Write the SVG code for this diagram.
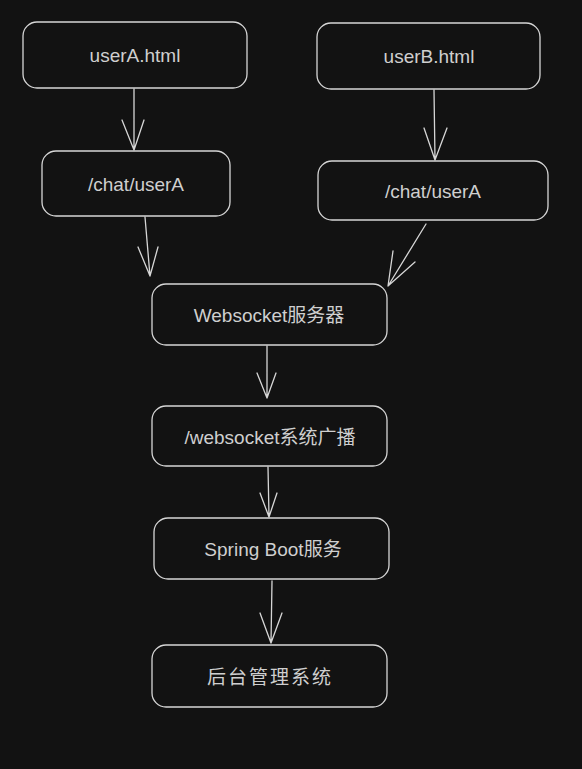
<svg xmlns="http://www.w3.org/2000/svg" width="582" height="769" viewBox="0 0 582 769">
<style>
.box{fill:#121212;stroke:#d6d6d6;stroke-width:1.3}
.lbl{fill:#cfcfcf;font-family:"Liberation Sans","Noto Sans CJK SC",sans-serif;font-size:19px;text-anchor:middle;dominant-baseline:central}
.ln{fill:none;stroke:#d6d6d6;stroke-width:1.3;stroke-linecap:round;stroke-linejoin:round}
</style>
<rect width="582" height="769" fill="#121212"/>
<g id="connectors">
<path class="ln" d="M134,89 L134,150 M122,120 L134,150 L144,120"/>
<path class="ln" d="M434,90 L435,160 M424,128 L435,160 L447,128"/>
<path class="ln" d="M145,217 L150,276 M138,247 L150,276 L158,247"/>
<path class="ln" d="M426,224 L388,286 M393,251 L388,286 L415,262"/>
<path class="ln" d="M267,346 L267,398 M257,373 L267,398 L276,373"/>
<path class="ln" d="M268,467 L269,517 M260,493 L269,517 L277,493"/>
<path class="ln" d="M272,581 L271,643 M260,613 L271,643 L282,613"/>
</g>
<g id="userA-html">
<rect class="box" x="23" y="22" width="224" height="66" rx="14"/>
<text class="lbl" x="135" y="55">userA.html</text>
</g>
<g id="userB-html">
<rect class="box" x="317" y="23" width="223" height="66" rx="14"/>
<text class="lbl" x="429" y="56">userB.html</text>
</g>
<g id="chat-userA-left">
<rect class="box" x="42" y="151" width="188" height="65" rx="14"/>
<text class="lbl" x="136" y="184">/chat/userA</text>
</g>
<g id="chat-userA-right">
<rect class="box" x="318" y="161" width="230" height="59" rx="14"/>
<text class="lbl" x="433" y="191">/chat/userA</text>
</g>
<g id="websocket-server">
<rect class="box" x="152" y="284" width="235" height="61" rx="14"/>
<text class="lbl" x="269" y="315">Websocket服务器</text>
</g>
<g id="websocket-broadcast">
<rect class="box" x="152" y="406" width="235" height="60" rx="14"/>
<text class="lbl" x="270" y="437">/websocket系统广播</text>
</g>
<g id="spring-boot">
<rect class="box" x="154" y="518" width="235" height="61" rx="14"/>
<text class="lbl" x="273" y="549">Spring Boot服务</text>
</g>
<g id="admin-system">
<rect class="box" x="152" y="645" width="235" height="62" rx="14"/>
<text class="lbl" x="270" y="677" style="letter-spacing:2px">后台管理系统</text>
</g>
</svg>
